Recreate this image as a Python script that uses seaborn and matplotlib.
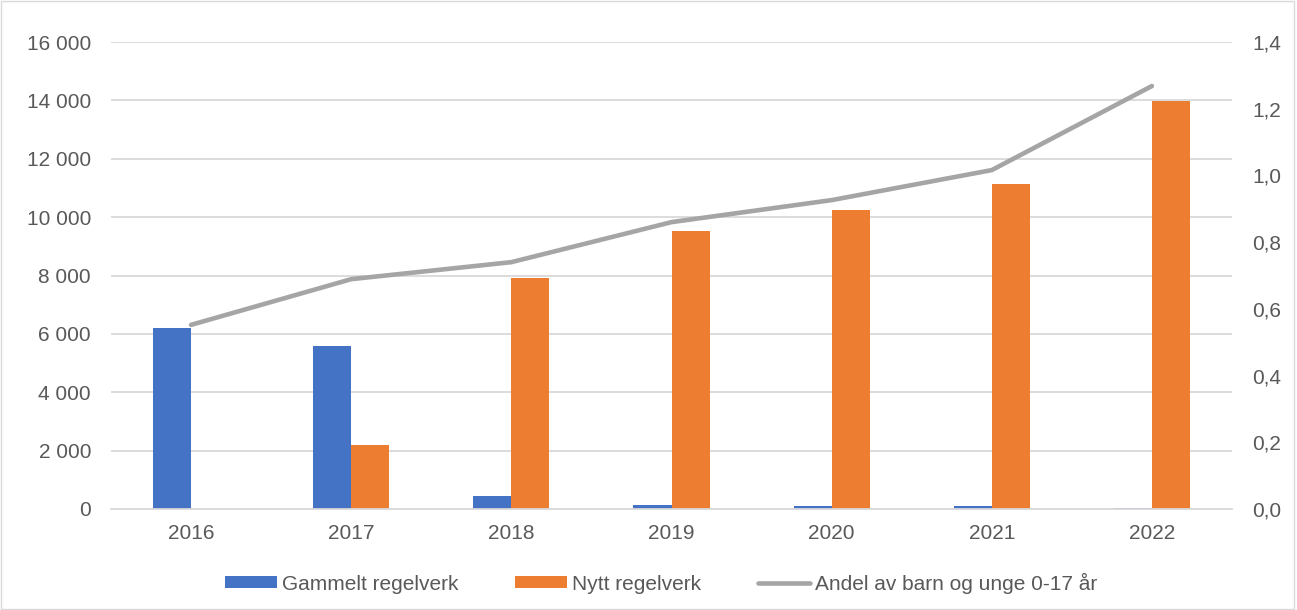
import matplotlib
matplotlib.use("Agg")
import matplotlib.pyplot as plt
import seaborn as sns
import numpy as np
import pandas as pd
from matplotlib.ticker import FuncFormatter, MultipleLocator
from matplotlib.patches import Rectangle
from matplotlib.lines import Line2D

years = ["2016", "2017", "2018", "2019", "2020", "2021", "2022"]
gammelt = [6200, 5600, 430, 120, 100, 100, 50]
nytt = [0, 2200, 7920, 9520, 10250, 11150, 13980]
andel = [0.552, 0.689, 0.740, 0.860, 0.926, 1.016, 1.268]
series_names = ["Gammelt regelverk", "Nytt regelverk", "Andel av barn og unge 0-17 år"]

sns.set_style("white")
plt.rcParams['font.family'] = ['Liberation Sans', 'DejaVu Sans']

df = pd.DataFrame({
    "year": years * 2,
    "value": gammelt + nytt,
    "series": [series_names[0]] * len(years) + [series_names[1]] * len(years),
})

blue = "#4472C4"
orange = "#ED7D31"
gray = "#A5A5A5"
grid = "#D9D9D9"
txt = "#595959"
fs = 15

fig = plt.figure(figsize=(12.97, 6.10), dpi=100)
ax = fig.add_axes([111 / 1297, 1 - 509 / 610, (1232 - 111) / 1297, (509 - 42) / 610])

sns.barplot(data=df, x="year", y="value", hue="series", order=years,
            hue_order=series_names[:2], palette=[blue, orange],
            width=0.475, gap=0, ax=ax, legend=False, saturation=1,
            edgecolor="none")

ax.set_ylim(0, 16000)
ax.yaxis.set_major_locator(MultipleLocator(2000))
ax.yaxis.set_major_formatter(FuncFormatter(lambda v, p: f"{int(v):,}".replace(",", " ")))
ax.set_xlim(-0.5, len(years) - 0.5)
ax.grid(axis="y", color=grid, linewidth=1.3)
ax.set_axisbelow(True)
for s in ["top", "right", "left"]:
    ax.spines[s].set_visible(False)
ax.spines["bottom"].set_color(grid)
ax.spines["bottom"].set_linewidth(1.3)
ax.set_xlabel("")
ax.set_ylabel("")
ax.tick_params(axis="y", length=0, labelsize=fs, colors=txt, pad=14.4)
ax.tick_params(axis="x", length=0, labelsize=fs, colors=txt, pad=11)

ax2 = ax.twinx()
sns.lineplot(x=np.arange(len(years)), y=andel, ax=ax2, color=gray, linewidth=3.3,
             solid_capstyle="round")
ax2.set_ylim(0, 1.4)
ax2.yaxis.set_major_locator(MultipleLocator(0.2))
ax2.yaxis.set_major_formatter(FuncFormatter(lambda v, p: f"{v:.1f}".replace(".", ",")))
for s in ["top", "right", "left", "bottom"]:
    ax2.spines[s].set_visible(False)
ax2.tick_params(axis="y", length=0, labelsize=fs, colors=txt, pad=14.4)
ax2.set_xlim(-0.5, len(years) - 0.5)
ax2.set_ylabel("")

handles = [
    Rectangle((0, 0), 1, 1, facecolor=blue, edgecolor="none"),
    Rectangle((0, 0), 1, 1, facecolor=orange, edgecolor="none"),
    Line2D([0], [0], color=gray, linewidth=3.3, solid_capstyle="round"),
]
leg = fig.legend(handles, series_names, loc="center", bbox_to_anchor=(661 / 1297, 1 - 583 / 610),
                 ncol=3, frameon=False, fontsize=fs, handlelength=2.5, handleheight=0.5,
                 handletextpad=0.25, columnspacing=2.7, borderpad=0, borderaxespad=0)
for t in leg.get_texts():
    t.set_color(txt)

fig.patches.append(Rectangle((0.001, 0.002), 0.997, 0.996, transform=fig.transFigure,
                             fill=False, edgecolor="#D9D9D9", linewidth=1))

fig.savefig("out.png", dpi=100)
